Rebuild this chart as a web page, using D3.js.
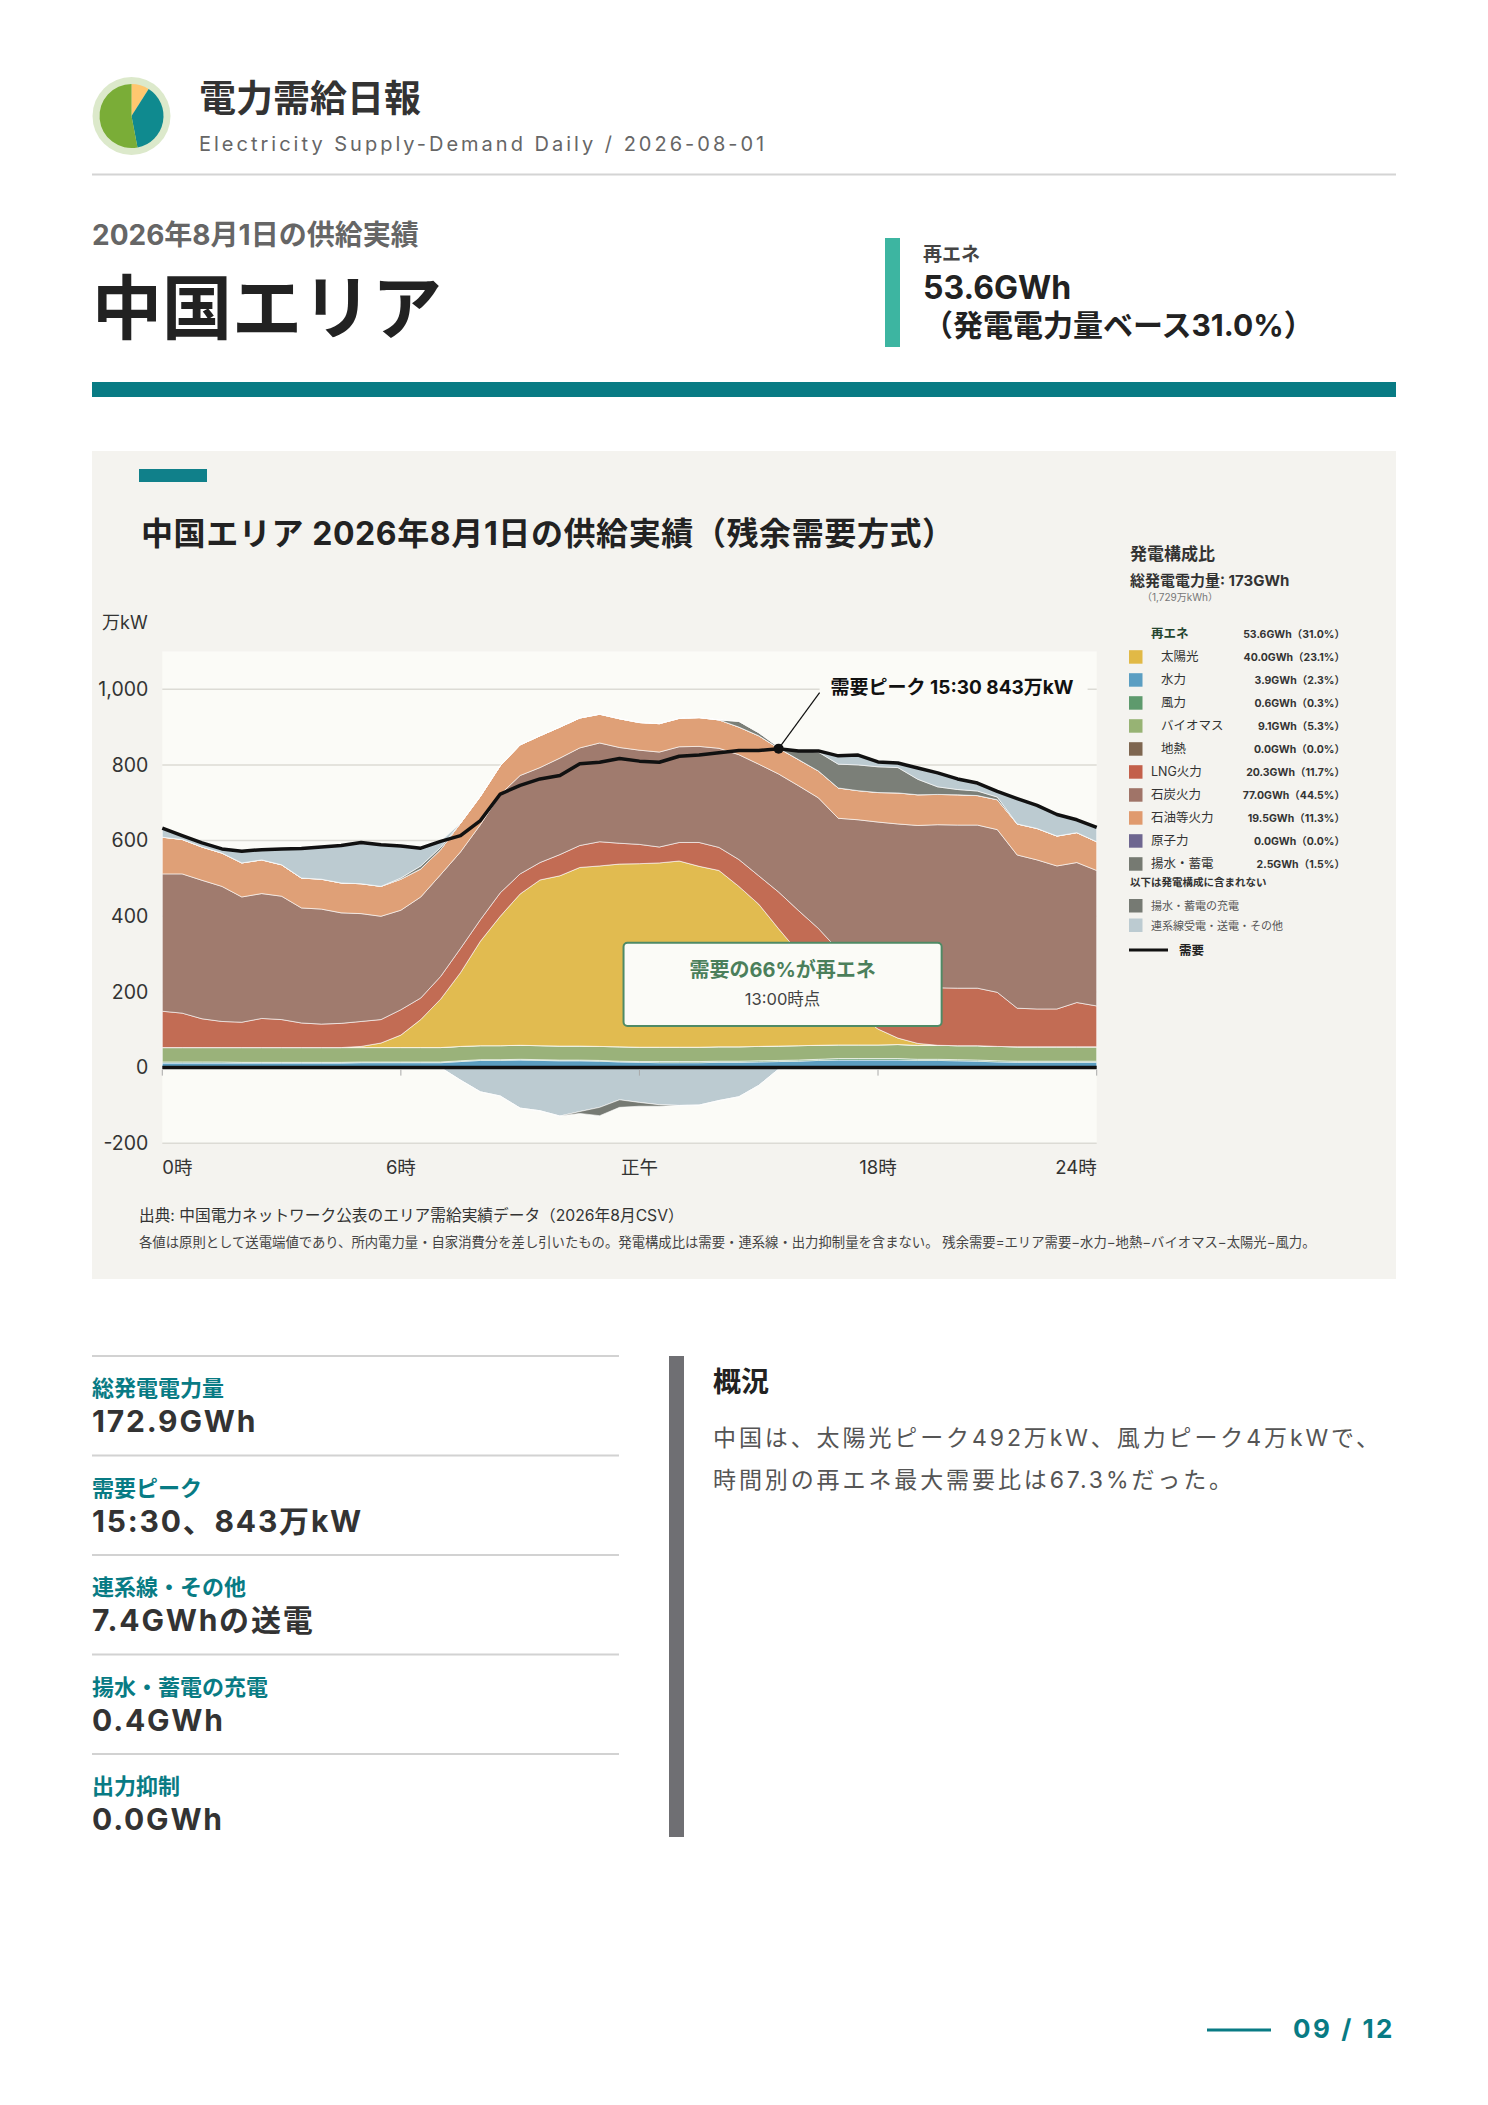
<!DOCTYPE html>
<html lang="ja">
<head>
<meta charset="utf-8">
<title>電力需給日報 中国エリア</title>
<script src="https://cdnjs.cloudflare.com/ajax/libs/d3/7.8.5/d3.min.js"></script>
<style>
  html, body { margin: 0; padding: 0; background: #fff; }
  svg { display: block; }
  text { font-family: "Inter", "Noto Sans CJK JP", sans-serif; }
</style>
</head>
<body>
<div id="page"></div>
<script>
// ---- data (万kW, 30分値) ----
const times = ["0:00","0:30","1:00","1:30","2:00","2:30","3:00","3:30","4:00","4:30","5:00","5:30",
  "6:00","6:30","7:00","7:30","8:00","8:30","9:00","9:30","10:00","10:30","11:00","11:30",
  "12:00","12:30","13:00","13:30","14:00","14:30","15:00","15:30","16:00","16:30","17:00","17:30",
  "18:00","18:30","19:00","19:30","20:00","20:30","21:00","21:30","22:00","22:30","23:00","23:30"];

const demand = [633,613,594,578,572,576,578,579,583,587,595,589,586,580,598,613,653,723,746,763,772,803,807,817,
  810,807,823,826,832,838,838,843,837,837,824,826,808,805,792,779,763,752,730,711,693,669,655,635];
const hydro = [12,12,12,12,12,12,12,12,12,12,13,13,13,13,13,16,19,19,20,19,18,18,17,15,
  14,13,13,13,14,14,15,16,17,19,20,20,20,20,19,19,18,17,15,14,14,14,14,14];
const wind = [3,3,3,3,2,2,2,2,2,2,2,2,2,2,2,2,2,2,2,2,2,2,2,2,
  2,3,3,3,3,3,3,3,3,3,4,4,4,4,3,3,3,3,3,3,3,3,3,3];
const biomass = [38,38,38,38,39,39,39,39,39,39,38,38,38,38,38,38,37,37,37,37,37,37,37,38,
  38,38,38,38,38,38,38,38,38,37,36,36,36,37,37,37,37,38,38,38,38,38,38,38];
const geothermal = [0,0,0,0,0,0,0,0,0,0,0,0,0,0,0,0,0,0,0,0,0,0,0,0,
  0,0,0,0,0,0,0,0,0,0,0,0,0,0,0,0,0,0,0,0,0,0,0,0];
const solar = [0,0,0,0,0,0,0,0,0,0,3,12,33,74,128,195,276,342,400,438,450,472,477,483,
  485,487,492,478,466,424,376,310,247,185,124,80,42,17,5,0,0,0,0,0,0,0,0,0];
const lng = [96,91,76,69,67,77,74,65,62,64,66,62,67,57,60,64,57,62,53,46,56,58,64,55,
  51,42,49,63,61,71,75,97,110,124,127,132,134,137,145,152,152,152,143,102,100,100,117,108];
const coal = [363,368,366,357,331,330,326,304,304,292,285,273,263,267,269,255,251,260,260,251,255,258,261,253,
  249,251,253,254,262,277,295,312,330,345,348,383,413,429,431,431,431,431,430,405,394,378,370,358];
const oil = [97,91,88,88,90,89,83,79,79,79,79,79,82,74,66,76,75,76,81,84,82,79,76,76,
  73,75,75,76,75,73,75,68,69,71,80,77,78,82,81,80,80,78,79,82,83,79,79,76];
const nuclear = [0,0,0,0,0,0,0,0,0,0,0,0,0,0,0,0,0,0,0,0,0,0,0,0,
  0,0,0,0,0,0,0,0,0,0,0,0,0,0,0,0,0,0,0,0,0,0,0,0];
const pumped = [0,0,0,0,0,0,0,0,0,0,0,0,3,8,6,0,0,0,0,0,0,0,0,0,
  0,0,0,0,0,15,8,3,25,50,63,68,68,67,41,20,14,12,7,0,0,0,0,0];
// 連系線: + 受電 / - 送電
const interconnect = [24,10,11,11,31,27,42,78,85,99,109,110,85,47,16,-33,-64,-75,-107,-114,-128,-116,-105,-85,
  -92,-98,-100,-99,-87,-77,-47,-4,-2,3,22,26,13,12,30,37,28,21,15,67,61,57,34,38];
// 揚水・蓄電の充電 (負値)
const charge = [0,0,0,0,0,0,0,0,0,0,0,0,0,0,0,0,0,0,0,0,0,-5,-22,-20,
  -10,-4,0,0,0,0,0,0,0,0,0,0,0,0,0,0,0,0,0,0,0,0,0,0];

const yTicks = [-200, 0, 200, 400, 600, 800, 1000];
const xTickIdx = [0, 12, 24, 36, 47];
const xTickLabels = ["0時", "6時", "正午", "18時", "24時"];

const legendNames = ["太陽光","水力","風力","バイオマス","地熱","LNG火力","石炭火力","石油等火力","原子力","揚水・蓄電"];
const legendGWh = [40.0, 3.9, 0.6, 9.1, 0.0, 20.3, 77.0, 19.5, 0.0, 2.5];
const legendPct = [23.1, 2.3, 0.3, 5.3, 0.0, 11.7, 44.5, 11.3, 0.0, 1.5];
const renewGWh = 53.6, renewPct = 31.0;

const statLabels = ["総発電電力量", "需要ピーク", "連系線・その他", "揚水・蓄電の充電", "出力抑制"];
const statValues = ["172.9GWh", "15:30、843万kW", "7.4GWhの送電", "0.4GWh", "0.0GWh"];
const summaryLines = ["中国は、太陽光ピーク492万kW、風力ピーク4万kWで、", "時間別の再エネ最大需要比は67.3%だった。"];

const logoShares = [0.09, 0.38, 0.53];

// ---- colours ----
const TEAL = "#087b84";
const colors = {
  hydro: "#5b9dc0", wind: "#5e9a6d", biomass: "#9ab27a", geothermal: "#7e6650",
  solar: "#e1bb50", lng: "#c26c54", coal: "#a07b6e", oil: "#dfa077",
  nuclear: "#6e6890", pumped: "#7b7f78", importPos: "#bccbd1",
  exportNeg: "#bccbd1", charge: "#767a73"
};
const legendColors = ["#e1b946","#5b9ec2","#5e9a6d","#97b374","#7e6650","#c3604a","#a07468","#e09a6e","#6e6690","#767a72"];
const logoColors = ["#ffc76f", "#0f8a8f", "#7aad37"];

const W = 1488, H = 2105;
const svg = d3.select("#page").append("svg").attr("width", W).attr("height", H);

function txt(g, x, y, s, size, weight, fill, anchor, spacing) {
  return g.append("text").attr("x", x).attr("y", y).text(s)
    .attr("font-size", size).attr("font-weight", weight || 400)
    .attr("fill", fill || "#333").attr("text-anchor", anchor || "start")
    .attr("letter-spacing", spacing || 0);
}

// ---- header ----
const logo = svg.append("g").attr("transform", "translate(131.5,116)");
logo.append("circle").attr("r", 39).attr("fill", "#dce9cb");
logo.selectAll("path")
  .data(d3.pie().sort(null)(logoShares))
  .join("path")
  .attr("d", d3.arc().innerRadius(0).outerRadius(32))
  .attr("fill", (d, i) => logoColors[i]);

txt(svg, 199, 112, "電力需給日報", 37, 700, "#333");
txt(svg, 199, 151, "Electricity Supply-Demand Daily / 2026-08-01", 20, 400, "#666", "start", 3);
svg.append("rect").attr("x", 92).attr("y", 173.5).attr("width", 1304).attr("height", 2).attr("fill", "#d4d4d4");

txt(svg, 92, 245, "2026年8月1日の供給実績", 28, 700, "#666");
txt(svg, 92, 334, "中国エリア", 70, 700, "#222");

svg.append("rect").attr("x", 885).attr("y", 238).attr("width", 15).attr("height", 109).attr("fill", "#3db5a1");
txt(svg, 923, 261, "再エネ", 19, 700, "#444");
txt(svg, 923, 299, renewGWh.toFixed(1) + "GWh", 32, 700, "#222");
txt(svg, 923, 336, "（発電電力量ベース" + renewPct.toFixed(1) + "%）", 30, 700, "#222");

svg.append("rect").attr("x", 92).attr("y", 382).attr("width", 1304).attr("height", 15).attr("fill", TEAL);

// ---- chart panel ----
svg.append("rect").attr("x", 92).attr("y", 451).attr("width", 1304).attr("height", 828).attr("fill", "#f4f3ef");
svg.append("rect").attr("x", 139).attr("y", 469).attr("width", 68).attr("height", 13).attr("fill", "#10808a");
txt(svg, 141, 545, "中国エリア 2026年8月1日の供給実績（残余需要方式）", 32, 700, "#222", "start", 0.6);
txt(svg, 102, 629, "万kW", 18, 400, "#333");

const x0 = 162.3, x1 = 1096.7, yTop = 651.4, yBot = 1143.3;
const x = d3.scaleLinear().domain([0, times.length - 1]).range([x0, x1]);
const y = d3.scaleLinear().domain([-200, 1100]).range([yBot, yTop]);

const plot = svg.append("g");
plot.append("rect").attr("x", x0).attr("y", yTop).attr("width", x1 - x0).attr("height", yBot - yTop).attr("fill", "#fbfbf7");

// gridlines
plot.selectAll("line.grid")
  .data(yTicks.filter(d => d !== 0))
  .join("line")
  .attr("class", "grid")
  .attr("x1", x0).attr("x2", x1)
  .attr("y1", d => y(d)).attr("y2", d => y(d))
  .attr("stroke", "#dcdbd5").attr("stroke-width", 1.5);

// y axis labels
const yAxisG = plot.append("g").attr("transform", `translate(${x0},0)`)
  .call(d3.axisLeft(y).tickValues(yTicks).tickSize(0).tickPadding(14)
    .tickFormat(d => d3.format(",")(d).replace("−", "-")));
yAxisG.select(".domain").remove();
yAxisG.selectAll("text").attr("font-size", 19.5).attr("fill", "#333")
  .attr("font-family", '"Inter", "Noto Sans CJK JP", sans-serif');

// stacked areas
const rows = times.map((t, i) => ({
  hydro: hydro[i], wind: wind[i], biomass: biomass[i], geothermal: geothermal[i],
  solar: solar[i], lng: lng[i], coal: coal[i], oil: oil[i], nuclear: nuclear[i],
  pumped: pumped[i], importPos: Math.max(0, interconnect[i]),
  exportNeg: Math.max(0, -interconnect[i]), charge: -charge[i]
}));
const posKeys = ["hydro","wind","biomass","geothermal","solar","lng","coal","oil","nuclear","pumped","importPos"];
const negKeys = ["exportNeg","charge"];

const posSeries = d3.stack().keys(posKeys)(rows);
const negSeries = d3.stack().keys(negKeys)(rows);

const areaPos = d3.area().x((d, i) => x(i)).y0(d => y(d[0])).y1(d => y(d[1]));
const areaNeg = d3.area().x((d, i) => x(i)).y0(d => y(-d[0])).y1(d => y(-d[1]));

plot.append("g").selectAll("path")
  .data(negSeries)
  .join("path")
  .attr("d", areaNeg)
  .attr("fill", d => colors[d.key])
  .attr("stroke", "#ffffff").attr("stroke-opacity", 0.6).attr("stroke-width", 1);

plot.append("g").selectAll("path")
  .data(posSeries)
  .join("path")
  .attr("d", areaPos)
  .attr("fill", d => colors[d.key])
  .attr("stroke", "#ffffff").attr("stroke-opacity", 0.6).attr("stroke-width", 1);

// zero line + ticks
plot.append("line").attr("x1", x0).attr("x2", x1).attr("y1", y(0)).attr("y2", y(0))
  .attr("stroke", "#111").attr("stroke-width", 3.5);
plot.selectAll("line.xtick")
  .data(xTickIdx)
  .join("line")
  .attr("class", "xtick")
  .attr("x1", d => x(d)).attr("x2", d => x(d))
  .attr("y1", y(0) + 2).attr("y2", y(0) + 8)
  .attr("stroke", "#aaa").attr("stroke-width", 1);

plot.selectAll("text.xlab")
  .data(xTickIdx)
  .join("text")
  .attr("class", "xlab")
  .attr("x", d => x(d)).attr("y", 1174)
  .attr("text-anchor", (d, i) => i === 0 ? "start" : (i === xTickIdx.length - 1 ? "end" : "middle"))
  .attr("font-size", 18.5).attr("fill", "#333")
  .text((d, i) => xTickLabels[i]);

// demand line
plot.append("path")
  .datum(demand)
  .attr("d", d3.line().x((d, i) => x(i)).y(d => y(d)))
  .attr("fill", "none").attr("stroke", "#111").attr("stroke-width", 3.5)
  .attr("stroke-linejoin", "round");

// peak annotation
const peakIdx = demand.indexOf(d3.max(demand));
const px = x(peakIdx), py = y(demand[peakIdx]);
plot.append("rect").attr("x", px + 41).attr("y", py - 74).attr("width", 268).attr("height", 26).attr("fill", "#fbfbf7");
plot.append("line").attr("x1", px).attr("y1", py).attr("x2", px + 41).attr("y2", py - 56)
  .attr("stroke", "#111").attr("stroke-width", 1.2);
plot.append("circle").attr("cx", px).attr("cy", py).attr("r", 5).attr("fill", "#111");
txt(plot, px + 52, py - 55, `需要ピーク ${times[peakIdx]} ${demand[peakIdx]}万kW`, 19, 700, "#111");

// renewable share box
const bx0 = x(23.2), bx1 = x(39.2), by0 = y(330), by1 = y(110);
plot.append("rect").attr("x", bx0).attr("y", by0).attr("width", bx1 - bx0).attr("height", by1 - by0)
  .attr("rx", 4).attr("fill", "#fbfbf7").attr("stroke", "#4f8a65").attr("stroke-width", 2);
txt(plot, (bx0 + bx1) / 2, by0 + 34, "需要の66%が再エネ", 20, 700, "#4b7f5b", "middle");
txt(plot, (bx0 + bx1) / 2, by0 + 62, "13:00時点", 16.5, 400, "#444", "middle");

// ---- legend ----
const lg = svg.append("g");
txt(lg, 1130, 560, "発電構成比", 17, 700, "#333");
txt(lg, 1130, 586, "総発電電力量: 173GWh", 15, 700, "#333");
txt(lg, 1142, 601, "（1,729万kWh）", 10, 400, "#777");

const rowY0 = 633.7, rowH = 23;
txt(lg, 1151, rowY0 + 4.5, "再エネ", 12.5, 700, "#24452f");
txt(lg, 1345, rowY0 + 4, `${renewGWh.toFixed(1)}GWh（${renewPct.toFixed(1)}%）`, 10.5, 700, "#333", "end");

legendNames.forEach((name, i) => {
  const cy = rowY0 + rowH * (i + 1);
  lg.append("rect").attr("x", 1129).attr("y", cy - 6.5).attr("width", 13.5).attr("height", 13.5).attr("fill", legendColors[i]);
  txt(lg, i < 5 ? 1161 : 1151, cy + 4.5, name, 12.5, 400, "#333");
  txt(lg, 1345, cy + 4, `${legendGWh[i].toFixed(1)}GWh（${legendPct[i].toFixed(1)}%）`, 10.5, 700, "#333", "end");
});

txt(lg, 1130, 886, "以下は発電構成に含まれない", 10.5, 700, "#333");
lg.append("rect").attr("x", 1129).attr("y", 899).attr("width", 13.5).attr("height", 13.5).attr("fill", colors.charge);
txt(lg, 1151, 910, "揚水・蓄電の充電", 11, 400, "#555");
lg.append("rect").attr("x", 1129).attr("y", 918.5).attr("width", 13.5).attr("height", 13.5).attr("fill", colors.importPos);
txt(lg, 1151, 929.5, "連系線受電・送電・その他", 11, 400, "#555");
lg.append("line").attr("x1", 1129).attr("x2", 1168).attr("y1", 950).attr("y2", 950).attr("stroke", "#111").attr("stroke-width", 3);
txt(lg, 1179, 954.5, "需要", 12.5, 700, "#222");

// footnotes
txt(svg, 139, 1221, "出典: 中国電力ネットワーク公表のエリア需給実績データ（2026年8月CSV）", 15.7, 400, "#333");
txt(svg, 139, 1247, "各値は原則として送電端値であり、所内電力量・自家消費分を差し引いたもの。発電構成比は需要・連系線・出力抑制量を含まない。 残余需要=エリア需要−水力−地熱−バイオマス−太陽光−風力。", 13.35, 400, "#444");

// ---- stats ----
statLabels.forEach((lab, i) => {
  const top = 1356 + 99.5 * i;
  svg.append("rect").attr("x", 92).attr("y", top - 1).attr("width", 527).attr("height", 2).attr("fill", "#d2d2d2");
  txt(svg, 92, top + 40, lab, 22, 700, TEAL);
  txt(svg, 92, top + 76, statValues[i], 30, 700, "#333", "start", 1.8);
});

svg.append("rect").attr("x", 669).attr("y", 1356).attr("width", 15).attr("height", 481).attr("fill", "#6f6f73");
txt(svg, 713, 1392, "概況", 28, 700, "#222");
summaryLines.forEach((s, i) => {
  txt(svg, 713, 1446 + 42 * i, s, 23, 400, "#555", "start", 2.9);
});

// ---- page number ----
svg.append("rect").attr("x", 1207).attr("y", 2028.5).attr("width", 64).attr("height", 3).attr("fill", TEAL);
txt(svg, 1395, 2038, "09 / 12", 26, 700, TEAL, "end", 2.5);
</script>
</body>
</html>
